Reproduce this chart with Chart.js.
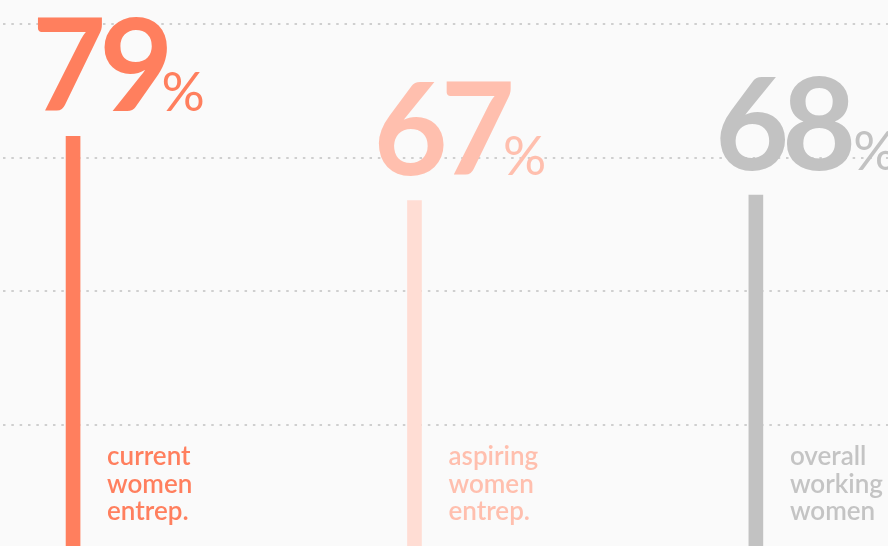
<!DOCTYPE html>
<html>
<head>
<meta charset="utf-8">
<script src="https://cdn.jsdelivr.net/npm/chart.js@4"></script>
<style>
  html, body { margin: 0; padding: 0; background: #fafafa; }
  canvas { display: block; }
</style>
</head>
<body>
<canvas id="chart" width="888" height="546"></canvas>
<script>
// Share of women in each group (percent)
const categories = [['current', 'women', 'entrep.'], ['aspiring', 'women', 'entrep.'], ['overall', 'working', 'women']];
const values = [79, 67, 68];
const gridTicks = [25, 50, 75, 100];

const barColors = ['#ff7f5e', '#ffddd4', '#c2c2c2'];
const numberColors = ['#ff7f5e', '#ffbfae', '#c2c2c2'];
const labelColors = ['#ff7f5e', '#ffbfae', '#c4c4c4'];

// the % tucks under a 7 or 9, needs room after round digits
const percentKern = { '7': -5, '9': -5 };

// big numbers above the bars and the labels beside them
const annotations = {
  id: 'annotations',
  afterDatasetsDraw(chart) {
    const ctx = chart.ctx;
    const meta = chart.getDatasetMeta(0);
    ctx.save();
    meta.data.forEach((bar, i) => {
      const left = bar.x - 41;
      const base = bar.y - 25;
      ctx.fillStyle = numberColors[i];
      ctx.textAlign = 'left';
      ctx.textBaseline = 'alphabetic';
      ctx.font = 'bold 128px Lato';
      ctx.letterSpacing = '-7px';
      const txt = String(values[i]);
      ctx.fillText(txt, left, base);
      const w = ctx.measureText(txt).width;
      ctx.letterSpacing = '0px';
      ctx.font = '54px Lato';
      const kern = percentKern[txt.slice(-1)] ?? 4;
      ctx.fillText('%', left + w + kern, base);

      ctx.fillStyle = labelColors[i];
      ctx.font = '600 26px Lato';
      categories[i].forEach((line, k) => {
        ctx.fillText(line, bar.x + 34, chart.chartArea.bottom - 81 + k * 27.5);
      });
    });
    ctx.restore();
  }
};

new Chart(document.getElementById('chart'), {
  type: 'bar',
  data: {
    datasets: [{
      data: values.map((v, i) => ({ x: i, y: v })),
      backgroundColor: barColors,
      barThickness: 14,
      borderWidth: 0
    }]
  },
  options: {
    responsive: false,
    animation: false,
    layout: { padding: { top: 24, left: 0, right: 0, bottom: 0 } },
    plugins: { legend: { display: false }, tooltip: { enabled: false } },
    scales: {
      x: {
        type: 'linear',
        display: false,
        offset: false,
        min: -0.214,
        max: 2.387
      },
      y: {
        min: 2.4,
        max: 100,
        afterBuildTicks: (scale) => { scale.ticks = gridTicks.map((v) => ({ value: v })); },
        ticks: { display: false },
        grid: { color: '#cfcfcf', lineWidth: 2, drawTicks: false },
        border: { display: false, dash: [2.5, 5.83], dashOffset: -3 }
      }
    }
  },
  plugins: [annotations]
});
</script>
</body>
</html>
